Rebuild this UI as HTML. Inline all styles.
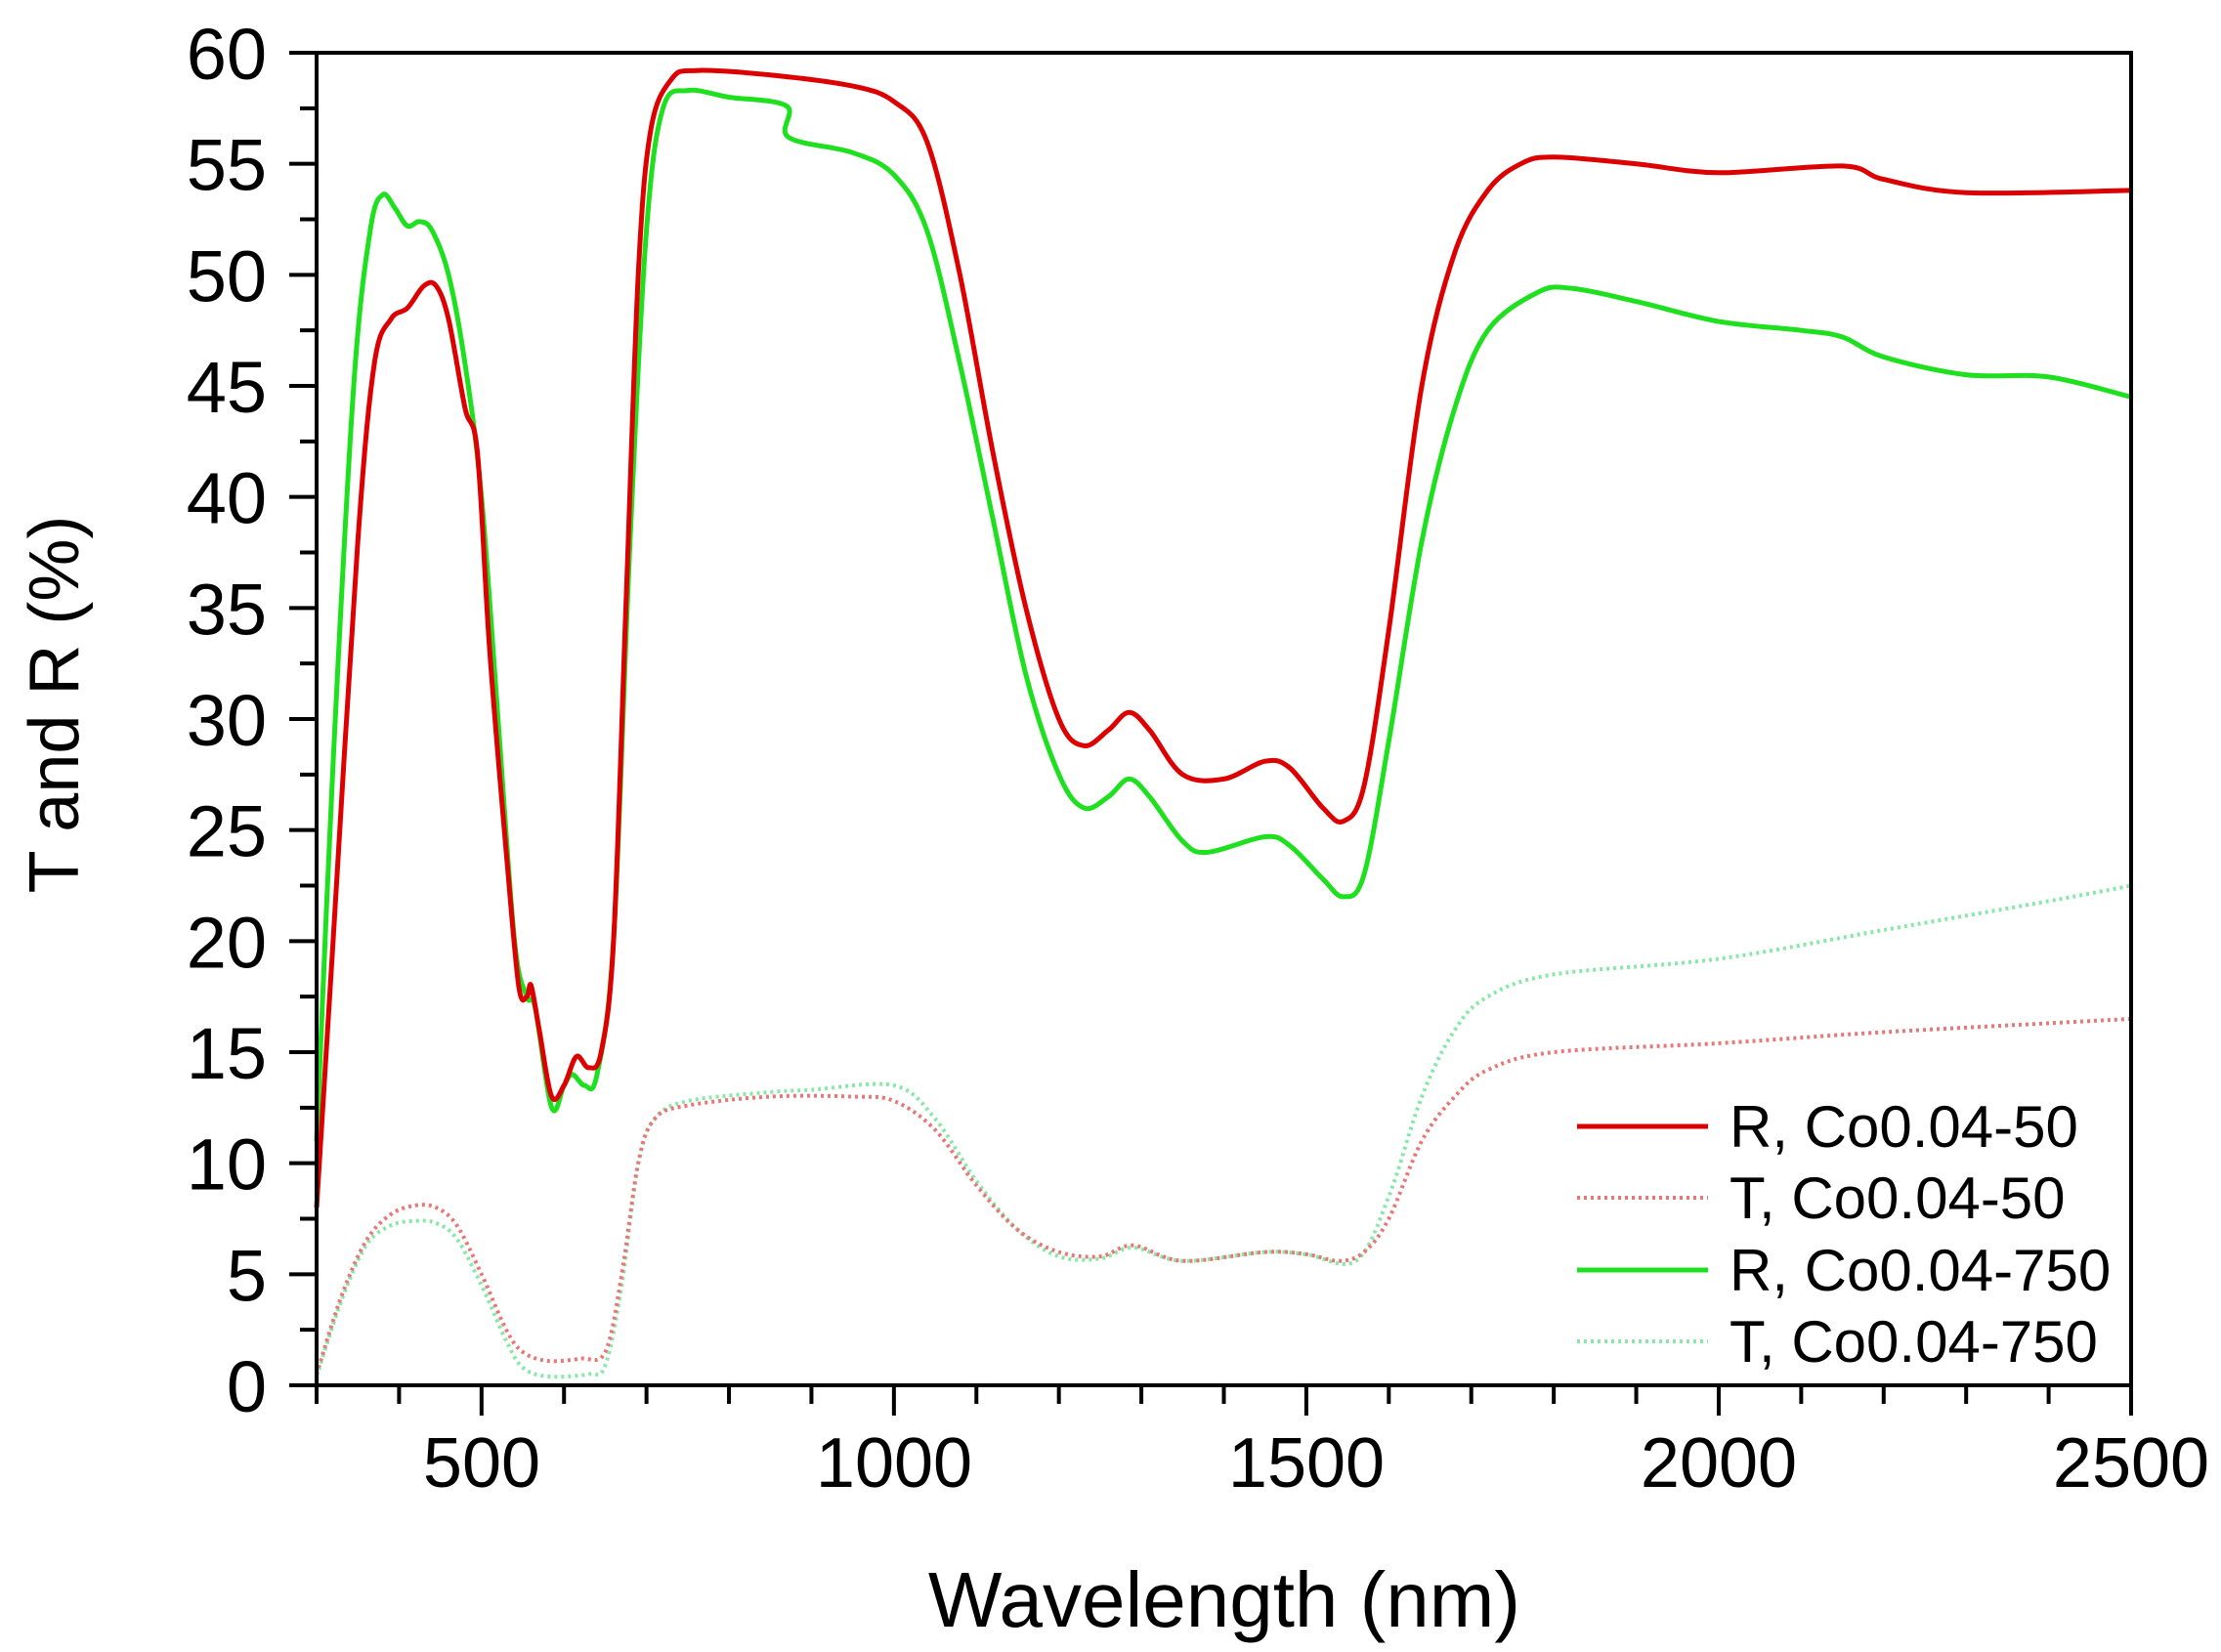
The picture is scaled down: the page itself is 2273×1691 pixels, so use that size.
<!DOCTYPE html>
<html><head><meta charset="utf-8"><style>
html,body{margin:0;padding:0;background:#fff;}
svg{display:block;font-family:"Liberation Sans",Arial,sans-serif;}
</style></head><body>
<svg id="s" width="2273" height="1691" viewBox="0 0 2273 1691" xmlns="http://www.w3.org/2000/svg">
<rect width="2273" height="1691" fill="#fff"/>
<g id="curves"></g>
<rect x="324" y="54" width="1857" height="1364" fill="none" stroke="#000" stroke-width="4"/>
<g id="ticks" stroke="#000" stroke-width="4"></g>
<g font-size="74" fill="#000" text-anchor="end" id="ylab"></g>
<g font-size="72" fill="#000" text-anchor="middle">
<text x="493" y="1522">500</text>
<text x="915" y="1522">1000</text>
<text x="1337" y="1522">1500</text>
<text x="1759" y="1522">2000</text>
<text x="2181" y="1522">2500</text>
</g>
<text x="1253" y="1665" font-size="80" text-anchor="middle">Wavelength (nm)</text>
<text transform="translate(80,721) rotate(-90)" font-size="72" text-anchor="middle">T and R (%)</text>
<g font-size="60" fill="#000">
<line x1="1614" y1="1153" x2="1748" y2="1153" stroke="#dd0000" stroke-width="5"/>
<text x="1770" y="1174">R, Co0.04-50</text>
<line x1="1614" y1="1226" x2="1748" y2="1226" stroke="#e87878" stroke-width="4" stroke-dasharray="3,4"/>
<text x="1770" y="1247">T, Co0.04-50</text>
<line x1="1614" y1="1300" x2="1748" y2="1300" stroke="#1ee01e" stroke-width="5"/>
<text x="1770" y="1321">R, Co0.04-750</text>
<line x1="1614" y1="1373" x2="1748" y2="1373" stroke="#88e8a8" stroke-width="4" stroke-dasharray="3,4"/>
<text x="1770" y="1394">T, Co0.04-750</text>
</g>
</svg>
<script>
var X0=324,X1=2181,Y0=1418,Y1=54;
function px(n){return X0+(n-300)*(X1-X0)/2200;}
function py(v){return Y0-v*(Y0-Y1)/60;}
function path(d){var P=[];for(var i=0;i<d.length;i+=2)P.push([px(d[i]),py(d[i+1])]);
var s="M"+P[0][0].toFixed(1)+","+P[0][1].toFixed(1);
for(var i=0;i<P.length-1;i++){var p0=P[i?i-1:0],p1=P[i],p2=P[i+1],p3=P[i+2<P.length?i+2:i+1];
var c1x=p1[0]+(p2[0]-p0[0])/6,c1y=p1[1]+(p2[1]-p0[1])/6,c2x=p2[0]-(p3[0]-p1[0])/6,c2y=p2[1]-(p3[1]-p1[1])/6;
s+="C"+c1x.toFixed(1)+","+c1y.toFixed(1)+" "+c2x.toFixed(1)+","+c2y.toFixed(1)+" "+p2[0].toFixed(1)+","+p2[1].toFixed(1);}
return s;}
var NS="http://www.w3.org/2000/svg";
function add(g,d,col,w,dash){var p=document.createElementNS(NS,"path");p.setAttribute("d",path(d));p.setAttribute("fill","none");p.setAttribute("stroke",col);p.setAttribute("stroke-width",w);p.setAttribute("stroke-linejoin","round");if(dash)p.setAttribute("stroke-dasharray",dash);g.appendChild(p);}
var g=document.getElementById("curves");
var rT=[300,0.5,330,4,360,6.5,390,7.7,420,8.1,445,8,470,7.2,500,5,530,2.5,550,1.5,580,1.1,620,1.2,650,1.5,670,5,690,10,710,12,750,12.6,850,13,950,13,1000,12.8,1050,11.5,1100,9,1150,7,1200,6,1250,5.8,1290,6.3,1350,5.6,1450,6,1500,5.9,1540,5.6,1570,6,1600,7.5,1640,11,1680,13,1720,14.2,1800,15,2000,15.4,2200,15.9,2500,16.5];
var gT=[300,0.4,330,3.8,360,6.3,390,7.2,420,7.4,445,7.3,470,6.6,500,4.5,530,2,550,0.8,580,0.4,630,0.5,650,0.9,670,4.5,690,10,710,12,750,12.8,850,13.2,900,13.3,1000,13.5,1050,12,1100,9.2,1150,7,1200,5.8,1250,5.7,1290,6.2,1350,5.6,1450,6,1500,5.9,1560,5.6,1600,8.5,1640,13,1680,16,1720,17.5,1800,18.5,2000,19.2,2200,20.5,2400,21.8,2500,22.5];
var rR=[300,8,320,20,350,38,370,46,390,48,410,48.5,430,49.5,445,49.5,460,48,480,44,495,42,510,33,530,24,545,18,555,17.5,560,18,570,16,585,13,600,13.5,615,14.8,630,14.3,645,15,660,20,675,35,690,50,705,56.5,730,58.8,760,59.2,850,59,950,58.5,1000,57.8,1040,56,1080,50,1120,42,1160,35,1200,30,1230,28.8,1260,29.5,1285,30.3,1310,29.5,1350,27.5,1400,27.3,1450,28.1,1480,27.8,1520,26,1545,25.4,1570,27,1600,34,1640,45,1680,51,1720,53.8,1760,55,1800,55.3,1900,55,2000,54.6,2150,54.9,2200,54.3,2300,53.7,2500,53.8];
var gR=[300,11,320,28,345,45,365,52,380,53.6,395,53,410,52.2,425,52.4,440,52,460,50,480,46,500,40,520,30,540,20,555,17.5,565,17,585,12.5,600,13.5,610,14,625,13.5,640,14,660,20,680,38,700,52,720,57.5,750,58.3,800,58,870,57.6,872,56.2,950,55.5,1000,54.5,1040,52,1080,46,1120,39,1160,32,1200,27.5,1230,26,1260,26.5,1285,27.3,1310,26.5,1350,24.5,1380,24,1450,24.7,1480,24.3,1520,22.8,1545,22,1570,23,1600,29,1640,38,1680,44,1720,47.5,1780,49.2,1820,49.4,1900,48.8,2000,47.9,2100,47.5,2150,47.2,2200,46.3,2300,45.5,2400,45.4,2500,44.5];
add(g,gT,"#88e8a8",4,"3,4");
add(g,rT,"#e87878",4,"3,4");
add(g,gR,"#1ee01e",5);
add(g,rR,"#dd0000",5);
var t=document.getElementById("ticks"),yl=document.getElementById("ylab"),h="";
for(var v=0;v<=60;v+=2.5){var y=py(v),maj=(v%5==0);h+='<line x1="'+(maj?296:307)+'" y1="'+y+'" x2="324" y2="'+y+'"/>';}
for(var n=300;n<=2500;n+=100){var x=px(n),maj=(n%500==0);h+='<line x1="'+x+'" y1="1418" x2="'+x+'" y2="'+(maj?1449:1437)+'"/>';}
t.innerHTML=h;
var s="";for(var v=0;v<=60;v+=5){s+='<text x="273" y="'+(py(v)+27)+'">'+v+'</text>';}
yl.innerHTML=s;
</script>
</body></html>
